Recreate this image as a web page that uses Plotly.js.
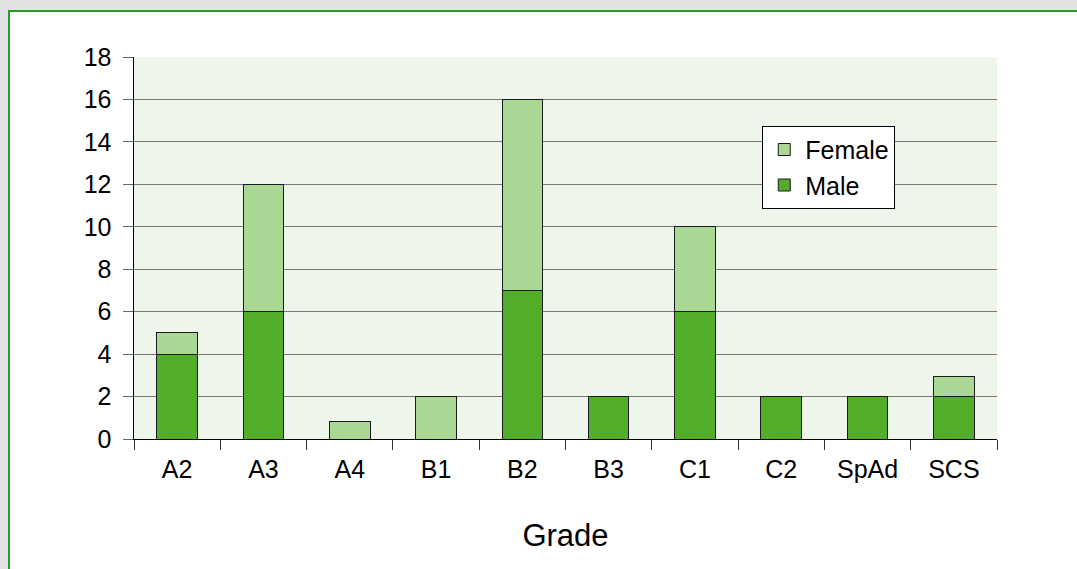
<!DOCTYPE html>
<html>
<head>
<meta charset="utf-8">
<script src="https://cdn.plot.ly/plotly-3.0.1.min.js"></script>
<style>
html,body{margin:0;padding:0;background:#e1e2e4;width:1077px;height:569px;overflow:hidden;}
#panel{position:absolute;left:8px;top:10px;width:1100px;height:600px;background:#ffffff;border-left:2px solid #22a022;border-top:2px solid #22a022;}
#chart{position:absolute;left:0;top:0;width:1077px;height:569px;}
</style>
</head>
<body>
<div id="panel"></div>
<div id="chart"></div>
<script>
const grades = ["A2","A3","A4","B1","B2","B3","C1","C2","SpAd","SCS"];
const male   = [4, 6, 0, 0, 7, 2, 6, 2, 2, 2];
const female = [1, 6, 0.82, 2, 9, 0, 4, 0, 0, 0.94];
const yTicks = [0,2,4,6,8,10,12,14,16,18];

const font = "Liberation Sans, Arial, Helvetica, sans-serif";

const traces = [
  {type:"bar", name:"Male", x:grades, y:male,
   marker:{color:"#52ad2a", line:{color:"#1a1a1a", width:1}}, width:0.47},
  {type:"bar", name:"Female", x:grades, y:female,
   marker:{color:"#a9d895", line:{color:"#1a1a1a", width:1}}, width:0.47}
];

const layout = {
  width:1077, height:569,
  margin:{l:134, r:80, t:57, b:130},
  paper_bgcolor:"rgba(0,0,0,0)",
  plot_bgcolor:"#eef5ea",
  barmode:"stack",
  font:{family:font, color:"#000", size:25},
  showlegend:true,
  legend:{
    x:0.728, y:0.82, xanchor:"left", yanchor:"top",
    bgcolor:"#ffffff", bordercolor:"#000", borderwidth:1,
    traceorder:"reversed", font:{size:25, family:font},
    itemwidth:32, tracegroupgap:0
  },
  xaxis:{
    type:"category",
    showline:true, linecolor:"#000", linewidth:1,
    ticks:"outside", tickson:"boundaries", ticklen:10, tickcolor:"#333", tickwidth:1,
    ticklabelstandoff:8,
    showgrid:false,
    tickfont:{size:25, family:font},
    title:{text:"Grade", font:{size:31, family:font}, standoff:42},
    fixedrange:true
  },
  yaxis:{
    range:[0,18], tickvals:yTicks, ticktext:yTicks.map(String),
    showline:true, linecolor:"#000", linewidth:1.5,
    ticks:"outside", ticklen:10, tickcolor:"#666", tickwidth:1,
    ticklabelstandoff:6,
    showgrid:true, gridcolor:"#777", gridwidth:1,
    zeroline:false,
    tickfont:{size:25, family:font},
    fixedrange:true
  }
};

Plotly.newPlot("chart", traces, layout, {displayModeBar:false, staticPlot:true});
</script>
</body>
</html>
